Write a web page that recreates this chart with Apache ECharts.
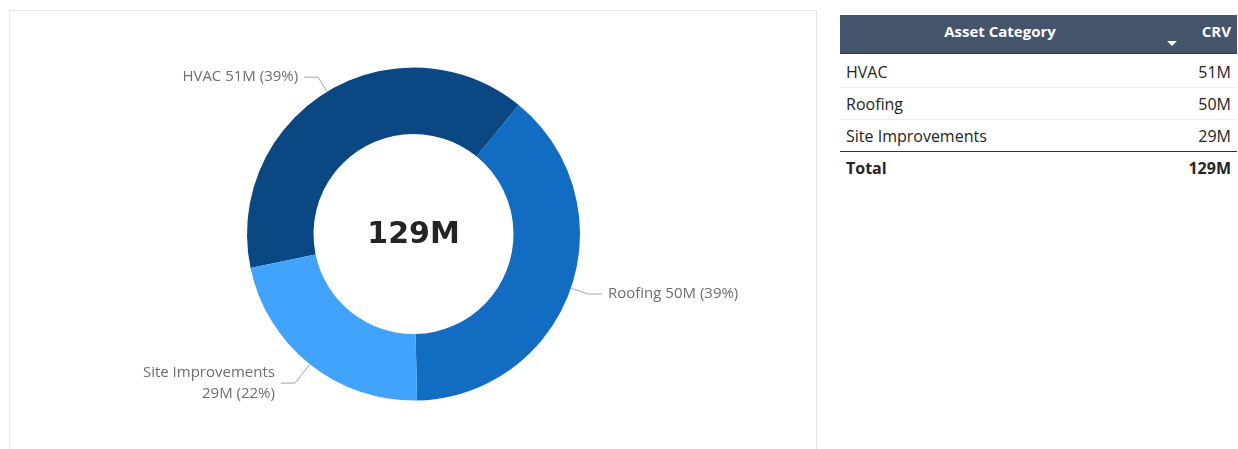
<!DOCTYPE html>
<html>
<head>
<meta charset="utf-8">
<script src="https://cdn.jsdelivr.net/npm/echarts@6/dist/echarts.min.js"></script>
<style>
  html, body { margin:0; padding:0; background:#fff; width:1238px; height:449px; overflow:hidden; }
  #panel { position:absolute; left:9px; top:10px; width:806px; height:445px; border:1px solid #e6e6e6; border-bottom:none; }
  #chart { position:absolute; left:0; top:0; width:806px; height:445px; }
  #tbl { position:absolute; left:840px; top:15px; width:397px; font-family:"Open Sans", sans-serif; color:#252423; }
  .hdr { position:relative; height:38px; background:#44546A; color:#fff; font-weight:bold; font-size:15px; border-bottom:1px solid #2f3b4a; }
  .hdr .c1 { position:absolute; left:0; width:320px; text-align:center; top:6px; }
  .hdr .c2 { position:absolute; right:6px; top:6px; }
  .hdr .arr { position:absolute; left:327px; top:26px; width:0; height:0; border-left:5px solid transparent; border-right:5px solid transparent; border-top:5px solid #fff; }
  .row { position:relative; height:31px; font-size:16px; border-bottom:1px solid #ececec; }
  .row.first { height:33px; }
  .row.first .c1, .row.first .c2 { top:7px; }
  .row .c1 { position:absolute; left:6px; top:5px; }
  .row .c2 { position:absolute; right:6px; top:5px; }
  .row.last { border-bottom:1.5px solid #333; }
  .row.total { font-weight:bold; border-bottom:none; }
</style>
</head>
<body>
<div id="panel"><div id="chart"></div></div>
<div id="tbl"></div>
<script>
const categories = ['HVAC', 'Roofing', 'Site Improvements'];
const values = [50.6, 50.1, 28.5];
const colors = ['#0B4883', '#116CC2', '#41A3FB'];
const headers = ['Asset Category', 'CRV'];
const totalLabel = 'Total';

const fmtM = v => Math.round(v) + 'M';
const total = values.reduce((a, b) => a + b, 0);

// table
let html = '<div class="hdr"><span class="c1">' + headers[0] + '</span><span class="arr"></span><span class="c2">' + headers[1] + '</span></div>';
categories.forEach((c, i) => {
  let cls = 'row';
  if (i === 0) cls += ' first';
  if (i === categories.length - 1) cls += ' last';
  html += '<div class="' + cls + '"><span class="c1">' + c + '</span><span class="c2">' + fmtM(values[i]) + '</span></div>';
});
html += '<div class="row total"><span class="c1">' + totalLabel + '</span><span class="c2">' + fmtM(total) + '</span></div>';
document.getElementById('tbl').innerHTML = html;

const chart = echarts.init(document.getElementById('chart'), null, { renderer: 'canvas' });
const center = [403.5, 223];
const lineLengths = [17, 18, 24];
chart.setOption({
  animation: false,
  graphic: [{
    type: 'text',
    x: center[0], y: center[1] + 1,
    silent: true,
    style: {
      text: fmtM(total),
      fill: '#252423',
      font: 'bold 30px "DejaVu Sans"',
      textAlign: 'center',
      textVerticalAlign: 'middle'
    }
  }],
  series: [{
    type: 'pie',
    radius: [100, 166.5],
    center: center,
    startAngle: 191.8,
    clockwise: true,
    avoidLabelOverlap: false,
    silent: true,
    percentPrecision: 0,
    data: categories.map((c, i) => ({
      name: c, value: values[i],
      itemStyle: { color: colors[i] },
      labelLine: { length: lineLengths[i] }
    })),
    label: {
      show: true,
      position: 'outside',
      color: '#6e6e6e',
      fontSize: 15,
      fontFamily: '"Open Sans", sans-serif',
      lineHeight: 21,
      distanceToLabelLine: 6,
      formatter: p => {
        const v = fmtM(p.value) + ' (' + p.percent + '%)';
        return p.name.length > 12 ? p.name + '\n' + v : p.name + ' ' + v;
      }
    },
    labelLine: {
      show: true,
      length: 17,
      length2: 14,
      lineStyle: { color: '#a6a6a6', width: 1 }
    },
    emphasis: { disabled: true }
  }]
});
</script>
</body>
</html>
